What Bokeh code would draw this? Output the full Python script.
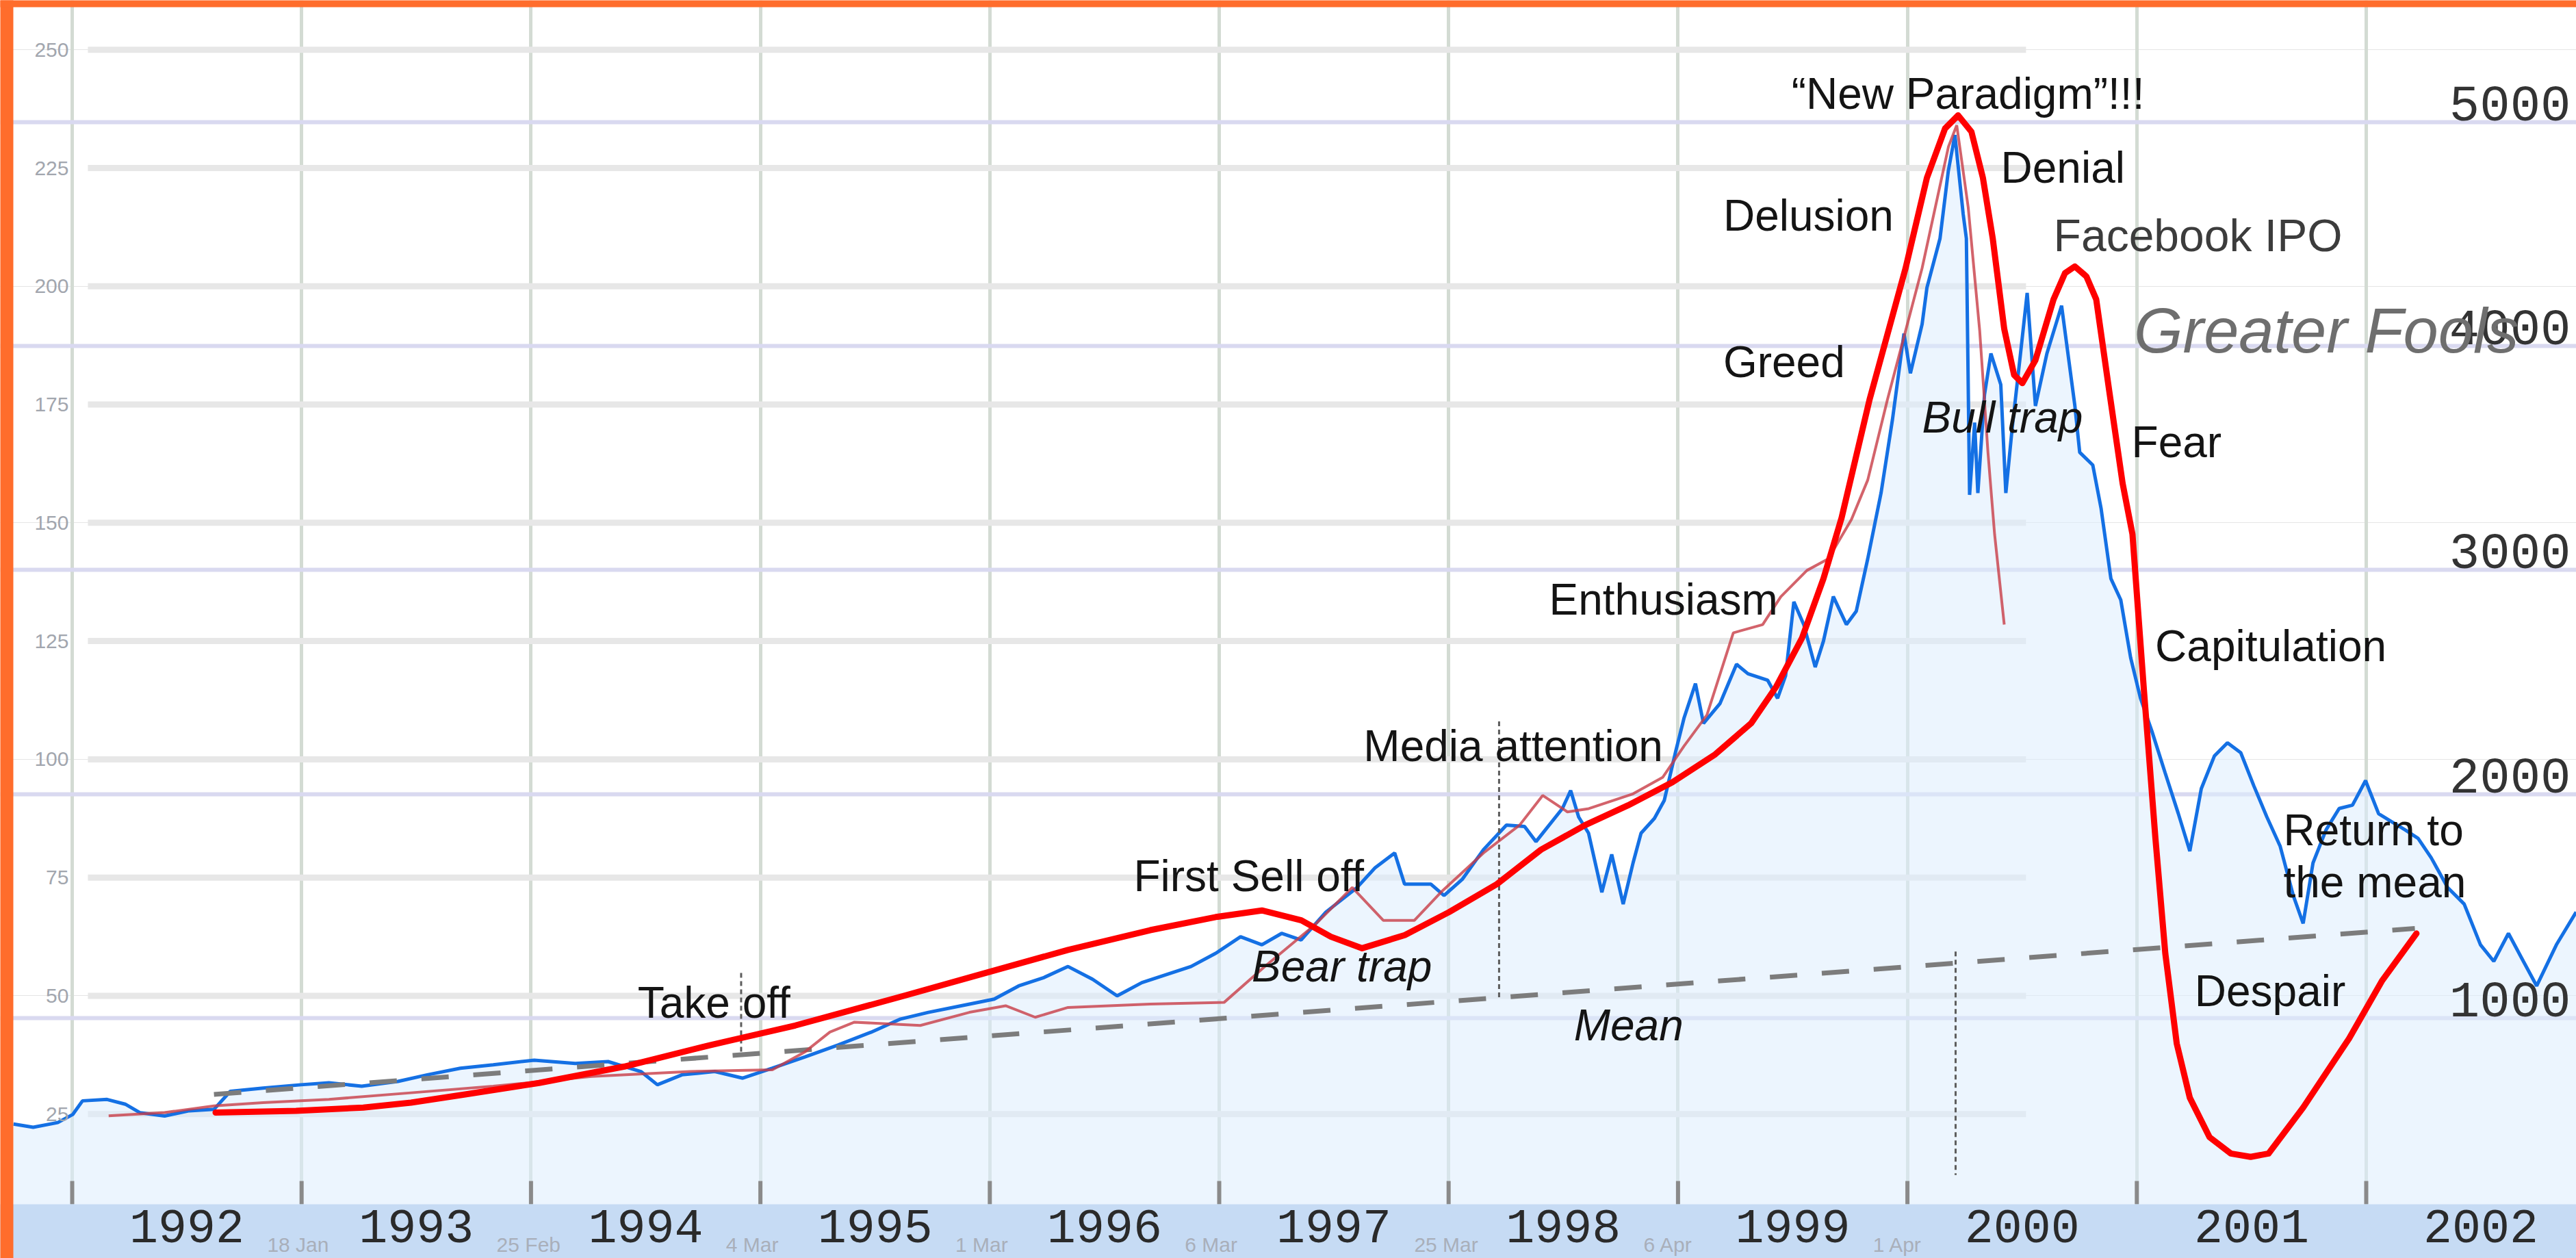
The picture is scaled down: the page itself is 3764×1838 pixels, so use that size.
from bokeh.plotting import figure
from bokeh.models import Range1d, Grid, FixedTicker, BoxAnnotation
from bokeh.core.properties import value
from bokeh.embed import file_html
from bokeh.resources import INLINE

# ---------------- data ----------------
year_ticks = [1992, 1993, 1994, 1995, 1996, 1997, 1998, 1999, 2000, 2001, 2002]
year_labels = ["1992", "1993", "1994", "1995", "1996", "1997", "1998", "1999", "2000", "2001", "2002"]
month_labels = ["18 Jan", "25 Feb", "4 Mar", "1 Mar", "6 Mar", "25 Mar", "6 Apr", "1 Apr"]
left_ticks = [25, 50, 75, 100, 125, 150, 175, 200, 225, 250]
left_labels = ["25", "50", "75", "100", "125", "150", "175", "200", "225", "250"]
right_ticks = [1000, 2000, 3000, 4000, 5000]
right_labels = ["1000", "2000", "3000", "4000", "5000"]

blue_years = [
    1991.744, 1991.830, 1991.937, 1992.002, 1992.045, 1992.152, 1992.231, 1992.295, 1992.403, 1992.510,
    1992.618, 1992.689, 1992.832, 1992.997, 1993.119, 1993.262, 1993.420, 1993.548, 1993.692, 1993.835,
    1994.014, 1994.193, 1994.336, 1994.479, 1994.551, 1994.658, 1994.801, 1994.923, 1995.052, 1995.195,
    1995.338, 1995.482, 1995.611, 1995.732, 1995.875, 1996.019, 1996.126, 1996.233, 1996.341, 1996.448,
    1996.555, 1996.663, 1996.770, 1996.877, 1996.985, 1997.093, 1997.186, 1997.272, 1997.357, 1997.465,
    1997.601, 1997.680, 1997.765, 1997.808, 1997.923, 1997.980, 1998.059, 1998.152, 1998.252, 1998.331,
    1998.381, 1998.496, 1998.532, 1998.567, 1998.610, 1998.668, 1998.711, 1998.761, 1998.804, 1998.839,
    1998.897, 1998.940, 1998.990, 1999.026, 1999.076, 1999.111, 1999.183, 1999.255, 1999.305, 1999.391,
    1999.434, 1999.469, 1999.505, 1999.548, 1999.598, 1999.634, 1999.677, 1999.734, 1999.777, 1999.827,
    1999.885, 1999.935, 1999.985, 2000.013, 2000.064, 2000.085, 2000.142, 2000.178, 2000.207, 2000.243,
    2000.257, 2000.271, 2000.293, 2000.307, 2000.336, 2000.364, 2000.407, 2000.429, 2000.457, 2000.493,
    2000.522, 2000.558, 2000.608, 2000.672, 2000.730, 2000.751, 2000.808, 2000.844, 2000.887, 2000.930,
    2000.973, 2001.016, 2001.066, 2001.123, 2001.181, 2001.231, 2001.281, 2001.338, 2001.395, 2001.453,
    2001.510, 2001.567, 2001.625, 2001.682, 2001.725, 2001.768, 2001.825, 2001.882, 2001.940, 2001.997,
    2002.054, 2002.111, 2002.169, 2002.226, 2002.283, 2002.355, 2002.427, 2002.498, 2002.556, 2002.620,
    2002.685, 2002.743, 2002.829, 2002.915,
]
blue_values = [
    22.9, 22.2, 23.2, 24.9, 27.8, 28.1, 27.1, 25.3, 24.6, 25.7,
    26.0, 29.8, 30.5, 31.2, 31.6, 30.9, 31.9, 33.3, 34.7, 35.4,
    36.4, 35.7, 36.1, 34.0, 31.2, 33.3, 34.0, 32.6, 34.7, 37.1,
    39.6, 42.3, 45.1, 46.5, 47.9, 49.3, 52.1, 53.8, 56.2, 53.5,
    50.0, 52.8, 54.5, 56.2, 59.0, 62.5, 60.8, 63.2, 61.8, 67.7,
    72.9, 77.1, 80.2, 73.6, 73.6, 71.2, 74.6, 80.9, 86.1, 85.8,
    82.6, 89.6, 93.4, 87.8, 84.4, 71.9, 79.9, 69.4, 78.1, 84.4,
    87.5, 91.3, 101.7, 108.7, 116.0, 107.6, 111.8, 120.1, 118.1, 116.7,
    112.9, 117.7, 133.3, 128.5, 119.5, 125.0, 134.4, 128.5, 131.3, 142.4,
    156.3, 171.9, 190.0, 181.6, 192.0, 199.7, 210.1, 224.3, 232.0, 215.3,
    210.1, 155.9, 171.2, 156.3, 177.1, 185.8, 179.2, 156.3, 170.2, 185.8,
    198.6, 174.7, 185.8, 195.9, 174.7, 164.9, 162.2, 153.1, 138.2, 133.7,
    121.5, 112.9, 105.9, 97.2, 88.5, 80.6, 93.8, 100.7, 103.5, 101.4,
    94.4, 87.8, 81.6, 71.2, 65.3, 78.1, 85.1, 89.6, 90.3, 95.5,
    88.5, 86.8, 85.1, 83.3, 79.2, 72.9, 69.4, 60.8, 57.3, 63.2,
    57.3, 52.1, 60.8, 67.7,
]

bubble_years = [
    1992.625, 1992.976, 1993.269, 1993.477, 1993.713, 1994.035, 1994.407, 1994.780, 1995.152, 1995.625,
    1995.983, 1996.341, 1996.699, 1996.985, 1997.186, 1997.358, 1997.487, 1997.623, 1997.809, 1998.002,
    1998.210, 1998.403, 1998.596, 1998.782, 1998.975, 1999.162, 1999.319, 1999.427, 1999.541, 1999.634,
    1999.713, 1999.835, 1999.992, 2000.085, 2000.164, 2000.221, 2000.279, 2000.329, 2000.372, 2000.422,
    2000.465, 2000.501, 2000.558, 2000.637, 2000.687, 2000.730, 2000.780, 2000.823, 2000.880, 2000.938,
    2000.981, 2001.031, 2001.081, 2001.124, 2001.174, 2001.231, 2001.317, 2001.410, 2001.496, 2001.574,
    2001.725, 2001.925, 2002.068, 2002.219,
]
bubble_values = [
    25.33, 25.68, 26.37, 27.41, 29.15, 31.58, 35.05, 39.57, 43.73, 49.99,
    54.85, 59.71, 63.88, 66.66, 68.05, 65.96, 62.49, 60.06, 62.84, 67.70,
    73.60, 80.90, 86.11, 90.27, 95.14, 101.04, 107.64, 115.28, 125.70, 138.20,
    151.05, 176.06, 203.84, 222.94, 233.36, 236.14, 232.67, 222.94, 210.09, 190.99,
    181.27, 179.53, 184.39, 197.24, 202.80, 204.19, 202.10, 197.24, 177.79, 158.34,
    147.58, 114.58, 83.33, 59.02, 39.91, 28.45, 20.12, 16.65, 15.95, 16.65,
    26.37, 40.96, 53.11, 63.18,
]

trend_years = [
    1992.159, 1992.403, 1992.618, 1992.832, 1993.119, 1993.477, 1993.835, 1994.264, 1994.694, 1995.052,
    1995.195, 1995.303, 1995.410, 1995.697, 1995.911, 1996.069, 1996.198, 1996.341, 1996.699, 1997.021,
    1997.200, 1997.415, 1997.580, 1997.715, 1997.851, 1997.966, 1998.152, 1998.310, 1998.410, 1998.518,
    1998.611, 1998.804, 1998.933, 1999.026, 1999.126, 1999.241, 1999.369, 1999.448, 1999.562, 1999.655,
    1999.756, 1999.827, 1999.913, 2000.064, 2000.179, 2000.215, 2000.265, 2000.315, 2000.351, 2000.380,
    2000.422,
]
trend_values = [
    24.63, 25.33, 26.72, 27.41, 28.11, 29.50, 30.88, 32.97, 34.01, 34.36,
    38.18, 42.35, 44.43, 43.73, 46.51, 47.90, 45.47, 47.55, 48.25, 48.60,
    56.24, 64.92, 72.91, 65.96, 65.96, 71.87, 80.20, 86.11, 92.36, 88.88,
    89.58, 92.70, 96.18, 102.78, 109.37, 126.74, 128.48, 134.38, 139.94, 142.37,
    150.70, 159.04, 176.06, 203.84, 229.54, 234.06, 216.69, 190.64, 164.94, 147.58,
    128.48,
]

mean_years = [1992.618, 2002.212]
mean_values = [29.15, 64.23]

marker_years = [1994.916, 1998.220, 2000.210]
marker_top = [54.85, 108.0, 59.36]
marker_bottom = [38.18, 49.46, 12.13]

# ---------------- layout constants ----------------
W, H = 3764, 1838
X0, X1 = 1991.6868, 2002.9159
Y0, Y1 = -5.4985, 260.454
R0, R1 = -72.6, 5543.9
BAND_TOP = 5.93
TICK_TOP = 10.85
ORANGE_RIGHT = 1991.7434
ORANGE_BOTTOM = 259.0
GRID_LEFT, GRID_RIGHT = 1992.0686, 2000.517
YEAR_MID = 1.302
MONTH_MID = -2.60
LEFT_X = 1991.985
RIGHT_X = 2002.892

SANS = value("Liberation Sans")
MONO = value("Liberation Mono")
INK = "#141414"

p = figure(width=W, height=H, x_range=Range1d(X0, X1), y_range=Range1d(Y0, Y1),
           output_backend="svg", toolbar_location=None,
           x_axis_location=None, y_axis_location=None,
           min_border=0, background_fill_color="white", border_fill_color="white")
p.min_border_left = p.min_border_right = p.min_border_top = p.min_border_bottom = 0
p.outline_line_color = None
p.extra_y_ranges = {"right": Range1d(R0, R1)}

# grids
p.add_layout(Grid(dimension=0, ticker=FixedTicker(ticks=year_ticks),
                  grid_line_color="#D3DBD3", grid_line_width=5))
p.add_layout(Grid(dimension=1, ticker=FixedTicker(ticks=right_ticks), y_range_name="right",
                  grid_line_color="#D9D9F0", grid_line_width=6))
p.segment(x0=GRID_LEFT, x1=GRID_RIGHT, y0=left_ticks, y1=left_ticks,
          line_color="#E7E7E7", line_width=9)

# series
p.varea(x=blue_years, y1=blue_values, y2=0, fill_color="#DDEDFD", fill_alpha=0.55)
p.line(blue_years, blue_values, line_color="#1470E4", line_width=5)
p.line(mean_years, mean_values, line_color="#7C7C7C", line_width=7, line_dash="40 36")
p.segment(x0=marker_years, x1=marker_years, y0=marker_top, y1=marker_bottom,
          line_color="#5E5E5E", line_width=3, line_dash="7 5")
p.line(trend_years, trend_values, line_color="#C83C46", line_alpha=0.8, line_width=4)
p.line(bubble_years, bubble_values, line_color="#FF0000", line_width=9,
       line_join="round", line_cap="round")

# frame pieces
p.add_layout(BoxAnnotation(left=X0 - 1, right=X1 + 1, bottom=Y0 - 1, top=BAND_TOP,
                           fill_color="#C6DBF4", fill_alpha=1, line_color=None))
p.add_layout(BoxAnnotation(left=X0 - 1, right=ORANGE_RIGHT, bottom=Y0 - 1, top=Y1 + 1,
                           fill_color="#FF6D2C", fill_alpha=1, line_color=None))
p.add_layout(BoxAnnotation(left=X0 - 1, right=X1 + 1, bottom=ORANGE_BOTTOM, top=Y1 + 1,
                           fill_color="#FF6D2C", fill_alpha=1, line_color=None))

p.segment(x0=year_ticks, x1=year_ticks, y0=TICK_TOP, y1=BAND_TOP,
          line_color="#8A8A8A", line_width=6)

# axis-like labels
r = p.text(x=[y + 0.5 for y in year_ticks], y=YEAR_MID, text=year_labels,
           text_font=MONO, text_font_size="70px", text_color="#2A2A2A",
           text_align="center", text_baseline="middle")
r.level = "overlay"
r = p.text(x=[y + 0.85 for y in year_ticks[:len(month_labels)]], y=MONTH_MID, text=month_labels,
           text_font=SANS, text_font_size="30px", text_color="#A9AFBA",
           text_align="left", text_baseline="middle")
r.level = "overlay"
p.text(x=LEFT_X, y=left_ticks, text=left_labels, text_font=SANS, text_font_size="30px",
       text_color="#A2A6AE", text_align="right", text_baseline="middle")
p.text(x=RIGHT_X, y=right_ticks, text=right_labels, y_range_name="right",
       text_font=MONO, text_font_size="74px", text_color="#333333",
       text_align="right", text_baseline="middle", y_offset=-27)

# annotations
p.text(x=[2000.264], y=[240.65], text=["\u201cNew Paradigm\u201d!!!"], text_font=SANS,
       text_font_size="64px", text_color=INK, text_align="center", text_baseline="middle")
p.text(x=[2000.407, 1999.197, 1999.197, 2000.977, 1998.438, 2001.080, 1997.629,
          2001.639, 2001.639, 1996.627, 1994.465, 2001.252],
       y=[225.03, 215.0, 184.04, 167.03, 133.83, 123.96, 102.78,
          85.06, 73.95, 75.34, 48.60, 51.03],
       text=["Denial", "Delusion", "Greed", "Fear", "Enthusiasm", "Capitulation",
             "Media attention", "Return to", "the mean", "First Sell off", "Take off", "Despair"],
       text_font=SANS, text_font_size="64px", text_color=INK,
       text_align="left", text_baseline="middle")
p.text(x=[2000.064, 1997.142, 1998.546], y=[172.24, 56.23, 43.74],
       text=["Bull trap", "Bear trap", "Mean"], text_font=SANS, text_font_size="64px",
       text_font_style="italic", text_color=INK, text_align="left", text_baseline="middle")
p.text(x=[2000.637], y=[210.79], text=["Facebook IPO"], text_font=SANS,
       text_font_size="66px", text_color="#3C3C3C", text_align="left", text_baseline="middle")
p.text(x=[2000.987], y=[190.64], text=["Greater Fools"], text_font=SANS,
       text_font_size="92px", text_font_style="italic", text_color="#6E6E6E",
       text_align="left", text_baseline="middle")

open("out.html", "w").write(file_html(p, INLINE))
